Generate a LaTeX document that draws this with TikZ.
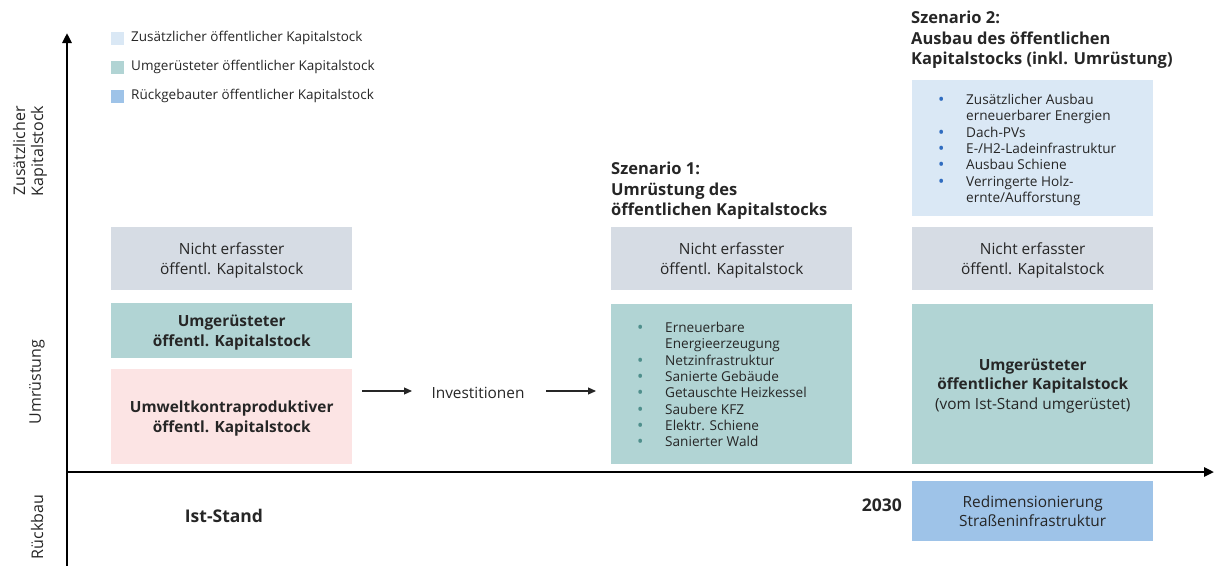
\documentclass[tikz,border=0pt]{standalone}
\usepackage{fontspec}
\setmainfont{Open Sans}
\usetikzlibrary{arrows.meta}
\definecolor{txt}{HTML}{262626}
\definecolor{greybox}{HTML}{D6DCE4}
\definecolor{tealbox}{HTML}{B1D4D4}
\definecolor{pinkbox}{HTML}{FCE4E4}
\definecolor{lightblue}{HTML}{DAE8F5}
\definecolor{midblue}{HTML}{9EC3E8}
\definecolor{tealdot}{HTML}{4F8F8C}
\definecolor{bluedot}{HTML}{2F6CC0}
\tikzset{
  box/.style={anchor=north west, inner sep=0pt, minimum width=241pt, align=center, text=txt},
  lowered/.style={text depth=-1pt},
  normtxt/.style={font=\fontsize{15.4}{19.5}\selectfont},
  boldtxt/.style={font=\fontsize{15.4}{19.5}\selectfont\bfseries},
  legtxt/.style={anchor=west, text=txt, inner sep=0pt, font=\fontsize{13.5}{16}\selectfont},
  legsq/.style={anchor=center, inner sep=0pt, minimum size=13pt},
  title/.style={anchor=north west, inner sep=0pt, align=left, text=txt, font=\fontsize{16.5}{20.5}\selectfont\bfseries},
  axislbl/.style={rotate=90, align=center, text=txt, inner sep=0pt, font=\fontsize{16}{18}\selectfont},
  axis/.style={line width=2.6pt, -{Triangle[length=10pt,width=9pt]}},
  smallarrow/.style={line width=1.1pt, txt, -{Triangle[length=8pt,width=7pt]}}
}
\newcommand{\bl}[1]{\raisebox{-1pt}{\textcolor{#1}{\fontsize{17}{14}\selectfont\textbullet}}}
\begin{document}
\begin{tikzpicture}[x=1pt,y=-1pt]
\useasboundingbox (0,0) rectangle (1214,565);
% axes
\coordinate (orig) at (67,472);
\coordinate (ybot) at (67,566);
\coordinate (ytop) at (67,33);
\coordinate (xend) at (1214,472);
\draw[axis] (ybot) -- (ytop);
\draw[axis] (orig) -- (xend);
% axis labels
\node[axislbl] (lz) at (30,151) {Zusätzlicher\\Kapitalstock};
\node[axislbl] (lu) at (37,382) {Umrüstung};
\node[axislbl] (lr) at (37,527) {Rückbau};
% legend
\node[legsq, fill=lightblue] (sq1) at (117.5,38.5) {};
\node[legsq, fill=tealbox] (sq2) at (117.5,67.5) {};
\node[legsq, fill=midblue] (sq3) at (117.5,96.5) {};
\node[legtxt] (lg1) at (131,38) {Zusätzlicher öffentlicher Kapitalstock};
\node[legtxt] (lg2) at (131,67) {Umgerüsteter öffentlicher Kapitalstock};
\node[legtxt] (lg3) at (131,96) {Rückgebauter öffentlicher Kapitalstock};
% column 1
\node[box, lowered, normtxt, fill=greybox, minimum height=63pt] (g1) at (111,227) {Nicht erfasster\\öffentl. Kapitalstock};
\node[box, lowered, boldtxt, fill=tealbox, minimum height=55pt] (t1) at (111,303) {Umgerüsteter\\öffentl. Kapitalstock};
\node[box, lowered, boldtxt, fill=pinkbox, minimum height=95pt] (p1) at (111,369) {Umweltkontraproduktiver\\öffentl. Kapitalstock};
\node[text=txt, inner sep=0pt, font=\fontsize{17.5}{20}\selectfont\bfseries] (ist) at (224,516) {Ist-Stand};
% arrows and Investitionen
\node[text=txt, inner sep=0pt, font=\fontsize{15.4}{18}\selectfont] (inv) at (478,393) {Investitionen};
\coordinate (a1s) at (362,391);
\coordinate (a1e) at (412,391);
\coordinate (a2s) at (546,391);
\coordinate (a2e) at (596,391);
\draw[smallarrow] (a1s) -- (a1e);
\draw[smallarrow] (a2s) -- (a2e);
% column 2
\node[title] (s1) at (611,162) {Szenario 1:\\Umrüstung des\\öffentlichen Kapitalstocks};
\node[box, lowered, normtxt, fill=greybox, minimum height=63pt] (g2) at (611,227) {Nicht erfasster\\öffentl. Kapitalstock};
\node[box, fill=tealbox, minimum height=160pt] (t2) at (611,304) {};
\node[anchor=north west, inner sep=0pt, text=txt, font=\fontsize{13.6}{16.3}\selectfont] (list2) at (637,321)
 {\begin{tabular}{@{}p{28pt}@{}l@{}}
 \bl{tealdot} & Erneuerbare\\
  & Energieerzeugung\\
 \bl{tealdot} & Netzinfrastruktur\\
 \bl{tealdot} & Sanierte Gebäude\\
 \bl{tealdot} & Getauschte Heizkessel\\
 \bl{tealdot} & Saubere KFZ\\
 \bl{tealdot} & Elektr. Schiene\\
 \bl{tealdot} & Sanierter Wald
 \end{tabular}};
% column 3
\node[title] (s2) at (911,11) {Szenario 2:\\Ausbau des öffentlichen\\Kapitalstocks (inkl. Umrüstung)};
\node[box, fill=lightblue, minimum height=136pt] (b3) at (912,80) {};
\node[anchor=north west, inner sep=0pt, text=txt, font=\fontsize{13.6}{16.3}\selectfont] (list3) at (938,93)
 {\begin{tabular}{@{}p{28pt}@{}l@{}}
 \bl{bluedot} & Zusätzlicher Ausbau\\
  & erneuerbarer Energien\\
 \bl{bluedot} & Dach-PVs\\
 \bl{bluedot} & E-/H2-Ladeinfrastruktur\\
 \bl{bluedot} & Ausbau Schiene\\
 \bl{bluedot} & Verringerte Holz-\\
  & ernte/Aufforstung
 \end{tabular}};
\node[box, lowered, normtxt, fill=greybox, minimum height=63pt] (g3) at (912,227) {Nicht erfasster\\öffentl. Kapitalstock};
\node[box, lowered, normtxt, fill=tealbox, minimum height=160pt] (t3) at (912,304) {\textbf{Umgerüsteter}\\\textbf{öffentlicher Kapitalstock}\\(vom Ist-Stand umgerüstet)};
\node[box, normtxt, fill=midblue, minimum height=60pt] (r3) at (912,481) {Redimensionierung\\Straßeninfrastruktur};
\node[anchor=east, text=txt, inner sep=0pt, font=\fontsize{17.5}{20}\selectfont\bfseries] (y2030) at (902,505) {2030};
\end{tikzpicture}
\end{document}
